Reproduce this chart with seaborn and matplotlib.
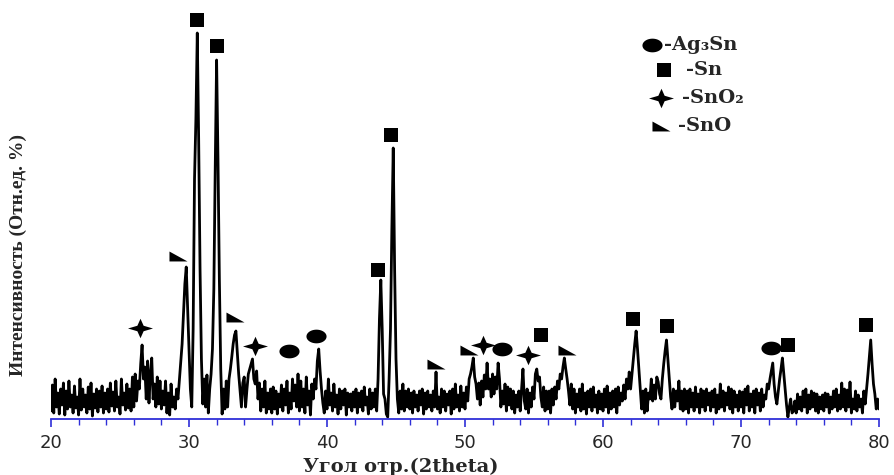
import numpy as np
import matplotlib
matplotlib.use("Agg")
import matplotlib.pyplot as plt
from matplotlib.path import Path
from matplotlib.ticker import MultipleLocator
import seaborn as sns

# 2theta scan, 20..80 deg, 0.1 deg step (intensity, relative units)
two_theta = np.linspace(20, 80, 601)
intensity = [
    8, 34, 6, 40, 12, 26, 5, 30, 14, 36, 4, 28, 10, 38, 12, 24, 6, 33, 11, 22,             # 20
    4, 40, 9, 30, 12, 24, 6, 32, 10, 36, 3, 25, 11, 30, 7, 28, 12, 33, 6, 26,              # 22
    10, 30, 7, 36, 13, 27, 8, 38, 12, 22, 5, 40, 14, 26, 9, 35, 11, 30, 8, 42,             # 24
    12, 45, 18, 38, 30, 55, 74, 40, 52, 20, 58, 16, 45, 61, 20, 35, 12, 42, 15, 38,        # 26
    10, 28, 14, 38, 6, 26, 4, 35, 12, 22, 10, 30, 20, 38, 55, 75, 105, 135, 152, 110,      # 28
    70, 30, 12, 90, 240, 300, 386, 280, 150, 60, 15, 40, 12, 44, 6, 30, 45, 70, 130, 250,  # 30
    359, 260, 140, 50, 5, 30, 10, 38, 12, 40, 50, 62, 75, 84, 88, 66, 45, 28, 12, 36,      # 32
    42, 12, 30, 45, 50, 55, 60, 40, 35, 48, 20, 36, 8, 30, 12, 38, 6, 26, 10, 30,          # 34
    6, 32, 10, 28, 5, 25, 12, 34, 8, 30, 14, 38, 6, 26, 10, 40, 18, 34, 12, 45,            # 36
    8, 38, 12, 30, 6, 42, 14, 28, 4, 35, 20, 40, 30, 58, 70, 48, 30, 16, 6, 28,            # 38
    10, 40, 14, 26, 8, 35, 12, 24, 5, 30, 10, 28, 14, 30, 4, 26, 12, 25, 8, 27,            # 40
    12, 30, 6, 26, 12, 28, 8, 32, 14, 22, 5, 30, 10, 26, 12, 30, 8, 40, 100, 139,          # 42
    90, 25, 20, 5, 2, 40, 90, 190, 271, 150, 60, 20, 6, 28, 10, 35, 8, 28, 12, 30,         # 44
    10, 26, 6, 28, 12, 24, 8, 28, 14, 30, 5, 26, 10, 28, 12, 24, 8, 28, 12, 47,            # 46
    10, 22, 6, 30, 12, 28, 8, 25, 14, 28, 5, 30, 10, 35, 12, 24, 8, 33, 12, 26,            # 48
    10, 32, 18, 40, 45, 52, 61, 42, 35, 20, 36, 14, 38, 22, 44, 30, 56, 30, 40, 22,        # 50
    45, 25, 42, 30, 56, 40, 12, 28, 15, 35, 8, 32, 14, 30, 10, 28, 6, 24, 12, 28,          # 52
    8, 30, 50, 18, 10, 30, 6, 26, 12, 32, 20, 45, 50, 38, 42, 22, 12, 32, 8, 28,           # 54
    10, 28, 6, 30, 14, 32, 20, 38, 30, 45, 40, 52, 61, 50, 40, 28, 14, 35, 10, 30,         # 56
    6, 25, 12, 30, 8, 35, 10, 26, 5, 28, 12, 30, 8, 32, 12, 24, 6, 28, 10, 25,             # 58
    8, 30, 12, 33, 6, 26, 10, 28, 12, 30, 6, 32, 14, 26, 18, 34, 20, 40, 30, 47,           # 60
    30, 45, 60, 75, 88, 70, 50, 30, 10, 28, 6, 30, 8, 26, 20, 40, 18, 34, 20, 42,          # 62
    37, 25, 20, 40, 55, 68, 79, 60, 40, 22, 10, 30, 12, 28, 18, 38, 10, 28, 8, 30,         # 64
    10, 28, 6, 30, 12, 26, 8, 32, 12, 25, 6, 30, 12, 28, 8, 30, 14, 26, 8, 28,             # 66
    12, 30, 6, 24, 10, 35, 12, 28, 8, 26, 14, 32, 10, 30, 6, 28, 12, 24, 8, 28,            # 68
    12, 27, 6, 30, 14, 33, 8, 25, 12, 28, 6, 30, 14, 26, 8, 30, 12, 24, 20, 35,            # 70
    30, 40, 48, 56, 35, 22, 15, 28, 40, 50, 61, 45, 30, 14, 2, 12, 20, 6, 8, 18,           # 72
    6, 25, 10, 22, 8, 28, 12, 30, 6, 24, 10, 28, 12, 26, 8, 25, 6, 22, 10, 24,             # 74
    8, 26, 12, 25, 6, 22, 10, 28, 12, 30, 8, 24, 10, 36, 12, 30, 8, 29, 12, 37,            # 76
    6, 20, 10, 28, 8, 24, 12, 20, 6, 28, 15, 30, 45, 62, 79, 55, 35, 25, 10, 20,           # 78
    10,                                                                                    # 80
]

# phase labels above the peaks
ag3sn_x = [37.25, 39.2, 52.7, 72.2]
ag3sn_y = [68, 83, 70, 71]
sn_x = [30.6, 32.05, 43.7, 44.65, 55.5, 62.15, 64.65, 73.4, 79.05]
sn_y = [399, 373, 149, 284, 84, 100, 93, 74, 94]
sno2_x = [26.45, 34.8, 51.3, 54.6]
sno2_y = [91, 73, 74, 64]
sno_x = [29.2, 33.35, 47.9, 50.3, 57.4]
sno_y = [163, 102, 55, 69, 69]

legend_labels = ["-Ag\u2083Sn", "-Sn", "-SnO\u2082", "-SnO"]

sns.set_style("white")
plt.rcParams["font.family"] = ["DejaVu Sans"]

# custom marker shapes
t = np.linspace(0, 2 * np.pi, 41)
ellipse = Path(np.column_stack([np.cos(t), 0.68 * np.sin(t)]))
triangle = Path([(-1, 0.55), (-1, -0.55), (1, -0.55), (-1, 0.55)])
star = Path([(1, 0), (0.25, 0.22), (0, 0.78), (-0.25, 0.22), (-1, 0),
             (-0.25, -0.22), (0, -0.78), (0.25, -0.22), (1, 0)])

fig = plt.figure(figsize=(8.95, 4.75), dpi=100)
ax = fig.add_axes([51 / 895, 56 / 475, 828 / 895, 419 / 475])

sns.lineplot(x=two_theta, y=intensity, ax=ax, color="black", lw=2.0,
             estimator=None)

mk = dict(ls="none", color="black", mew=0, clip_on=False)
ax.plot(ag3sn_x, ag3sn_y, marker=ellipse, ms=14.5, **mk)
ax.plot(sn_x, sn_y, marker="s", ms=10, **mk)
ax.plot(sno2_x, sno2_y, marker=star, ms=18, **mk)
ax.plot(sno_x, sno_y, marker=triangle, ms=13, **mk)

# legend drawn by hand
lx = [63.55, 64.42, 64.2, 64.2]
ly = [374, 349, 321, 293]
tx = [64.42, 66.0, 65.72, 65.43]
shapes = [(ellipse, 14.5), ("s", 10), (star, 18), (triangle, 13)]
for (m, s), x0, y0, x1, lab in zip(shapes, lx, ly, tx, legend_labels):
    ax.plot([x0], [y0], marker=m, ms=s, **mk)
    ax.text(x1, y0, lab, ha="left", va="center", fontsize=14, fontweight="bold",
            family=["DejaVu Serif"])

ax.set_xlim(20, 80)
ax.set_ylim(0, 419)
ax.set_xlabel("")
ax.set_ylabel("")
ax.set_yticks([])
for side in ["left", "right", "top"]:
    ax.spines[side].set_visible(False)
blue = "#2f2fd8"
ax.spines["bottom"].set_color(blue)
ax.spines["bottom"].set_linewidth(1.3)
ax.xaxis.set_major_locator(MultipleLocator(10))
ax.xaxis.set_minor_locator(MultipleLocator(2))
ax.tick_params(axis="x", which="major", direction="out", length=6, width=1.2,
               color=blue, labelsize=13, pad=5, bottom=True)
ax.tick_params(axis="x", which="minor", direction="out", length=4, width=1.0,
               color=blue, bottom=True)

fig.text(401 / 895, 0.018, "Угол отр.(2theta)", ha="center", va="center",
         fontsize=14, fontweight="bold", family=["DejaVu Serif"])
fig.text(18 / 895, 1 - 255 / 475, "Интенсивность (Отн.ед. %)", rotation=90,
         ha="center", va="center", fontsize=14, fontweight="bold",
         family=["Liberation Serif", "DejaVu Serif"])

fig.savefig("out.png", dpi=100)
